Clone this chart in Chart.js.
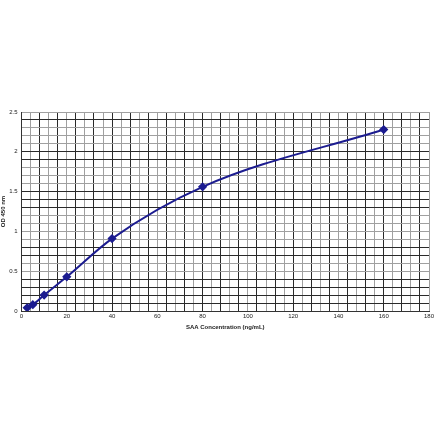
<!DOCTYPE html>
<html><head><meta charset="utf-8">
<script src="https://cdn.jsdelivr.net/npm/chart.js@4.4.0/dist/chart.umd.min.js"></script>
<style>html,body{margin:0;padding:0;background:#fff;}canvas{display:block;}</style>
</head><body>
<canvas id="c" width="440" height="441"></canvas>
<script>
const concentrations = [2.5, 5, 10, 20, 40, 80, 160];
const odValues = [0.04, 0.08, 0.20, 0.43, 0.91, 1.56, 2.28];
const xTickLabels = [0, 20, 40, 60, 80, 100, 120, 140, 160, 180];
const yTickLabels = [0, 0.5, 1, 1.5, 2, 2.5];
const xTitle = 'SAA Concentration (ng/mL)';
const yTitle = 'OD 450 nm';

// style only: which horizontal gridlines (tenths) look dark
const darkY = [1,2,3,4,7,8,13,14,15,19,20,24];

const font = {family: 'Liberation Sans, Arial, sans-serif', size: 6};
new Chart(document.getElementById('c'), {
  type: 'line',
  data: {
    datasets: [{
      data: concentrations.map((x, i) => ({x, y: odValues[i]})),
      borderColor: '#1c1c90',
      backgroundColor: '#1c1c90',
      borderWidth: 2,
      pointStyle: 'rectRot',
      pointRadius: 3.2,
      tension: 0.35,
      cubicInterpolationMode: 'monotone'
    }]
  },
  options: {
    responsive: false,
    animation: false,
    layout: {padding: {left: 0, right: 11, top: 112, bottom: 110}},
    plugins: {legend: {display: false}, tooltip: {enabled: false}},
    scales: {
      x: {
        type: 'linear', min: 0, max: 180,
        afterFit: s => { s.height = 20; },
        afterBuildTicks: s => { s.ticks = []; for (let v = 0; v <= 180; v += 4) s.ticks.push({value: v}); },
        ticks: {
          font, color: '#222', padding: 2, maxRotation: 0, autoSkip: false,
          callback: v => xTickLabels.includes(v) ? String(v) : ''
        },
        grid: {
          drawTicks: false,
          color: c => (c.tick && c.tick.value % 8 === 0) ? '#2a2a2a' : '#a0a0a0',
          lineWidth: 1
        },
        border: {color: '#333', width: 1},
        title: {display: true, text: xTitle, font: {...font, weight: 'bold'}, color: '#222', padding: {top: 2, bottom: 0}}
      },
      y: {
        min: 0, max: 2.5,
        afterFit: s => { s.width = 21.5; },
        afterBuildTicks: s => { s.ticks = []; for (let i = 0; i <= 25; i++) s.ticks.push({value: i / 10}); },
        ticks: {
          font, color: '#222', padding: 4, autoSkip: false,
          callback: v => yTickLabels.some(t => Math.abs(t - v) < 1e-9) ? String(Math.round(v * 10) / 10) : ''
        },
        grid: {
          drawTicks: false,
          color: c => {
            if (!c.tick) return '#a0a0a0';
            const k = Math.round(c.tick.value * 10);
            return darkY.includes(k) ? '#2a2a2a' : '#a0a0a0';
          },
          lineWidth: 1
        },
        border: {color: '#333', width: 1},
        title: {display: true, text: yTitle, font: {...font, weight: 'bold'}, color: '#222', padding: {top: 0, bottom: 1}}
      }
    }
  }
});
</script>
</body></html>
